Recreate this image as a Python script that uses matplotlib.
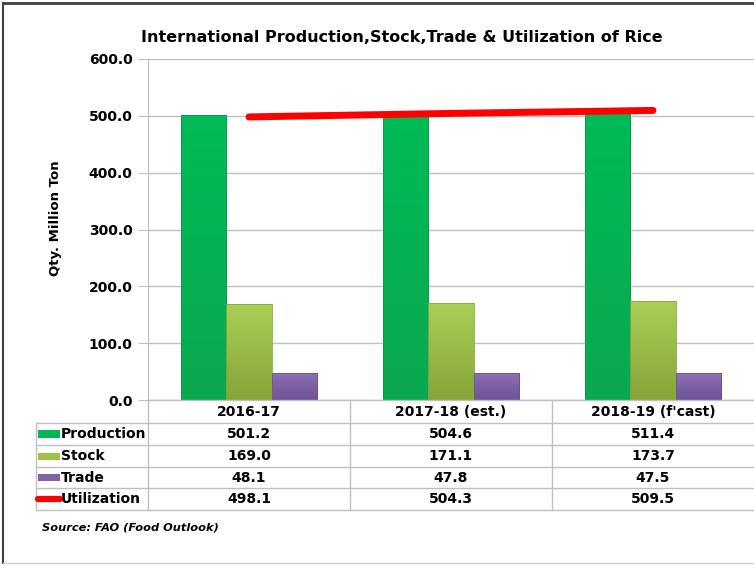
import matplotlib
matplotlib.use("Agg")
import matplotlib.pyplot as plt
import numpy as np
from matplotlib.patches import Rectangle
from matplotlib.lines import Line2D
from matplotlib.colors import LinearSegmentedColormap

categories = ["2016-17", "2017-18 (est.)", "2018-19 (f'cast)"]
production = [501.2, 504.6, 511.4]
stock = [169.0, 171.1, 173.7]
trade = [48.1, 47.8, 47.5]
utilization = [498.1, 504.3, 509.5]
series_names = ["Production", "Stock", "Trade", "Utilization"]
yticks = [0, 100, 200, 300, 400, 500, 600]

W, H = 754, 566
fig = plt.figure(figsize=(W / 100, H / 100), dpi=100)
plt.rcParams['font.family'] = ['DejaVu Sans']

def fx(px):
    return px / W

def fy(py):
    return 1 - py / H

ax_l, ax_r, ax_t, ax_b = 148, 754, 59, 400
ax = fig.add_axes([fx(ax_l), fy(ax_b), fx(ax_r) - fx(ax_l), fy(ax_t) - fy(ax_b)])

c_prod = "#00B552"
c_stock = "#9DC24A"
c_trade = "#8064A8"
c_util = "#FF0000"

grads = {
    "Production": ("#0BA850", "#00BB56"),
    "Stock": ("#86A43A", "#AACF55"),
    "Trade": ("#6E5396", "#8C70B8"),
}

x = np.arange(len(categories))
bw = 0.223
series_bars = [("Production", production, -bw, "#0A9A48"),
               ("Stock", stock, 0.0, "#86A83C"),
               ("Trade", trade, bw, "#6A5090")]
for name, vals, off, ec in series_bars:
    bars = ax.bar(x + off, vals, bw, color="none", edgecolor=ec, linewidth=0.6, zorder=4)
    cmap = LinearSegmentedColormap.from_list(name, list(grads[name]))
    for b in bars:
        x0, w, h = b.get_x(), b.get_width(), b.get_height()
        grad = np.linspace(0, 1, 64).reshape(-1, 1)
        im = ax.imshow(grad, extent=[x0, x0 + w, 0, h], origin="lower", aspect="auto",
                       cmap=cmap, zorder=3, interpolation="bilinear")
        im.set_clip_path(b)

ax.plot(x, utilization, color=c_util, linewidth=5, solid_capstyle="round", zorder=5)

ax.set_xlim(-0.5, len(categories) - 0.5)
ax.set_ylim(0, 600)
ax.set_yticks(yticks)
ax.set_yticklabels([f"{v:.1f}" for v in yticks], fontsize=10, fontweight="bold")
ax.set_xticks([])
ax.yaxis.grid(True, color="#BFBFBF", linewidth=1, zorder=0)
for s in ["top", "right", "bottom"]:
    ax.spines[s].set_visible(False)
ax.spines["left"].set_color("#BFBFBF")
ax.tick_params(axis="y", length=7, color="#BFBFBF", pad=4)

# y label
fig.text(fx(55), fy(218), "Qty. Million Ton", rotation=90, ha="center", va="center",
         fontsize=9.5, fontweight="bold")

# title
fig.text(fx(402), fy(37), "International Production,Stock,Trade & Utilization of Rice",
         ha="center", va="center", fontsize=11.5, fontweight="bold")

# table (data table under the chart)
grid_c = "#BFBFBF"
row_bounds = [400, 423, 445, 467, 488, 510]
col_bounds = [148, 350, 552, 754]
tbl_left = 36

def hline(y, x0, x1):
    fig.add_artist(Line2D([fx(x0), fx(x1)], [fy(y), fy(y)], color=grid_c, lw=1))

def vline(xp, y0, y1):
    fig.add_artist(Line2D([fx(xp), fx(xp)], [fy(y0), fy(y1)], color=grid_c, lw=1))

hline(row_bounds[0], col_bounds[0], col_bounds[-1])
for yb in row_bounds[1:]:
    hline(yb, tbl_left, col_bounds[-1])
for xc in col_bounds[:-1]:
    vline(xc, row_bounds[0], row_bounds[-1])
vline(tbl_left, row_bounds[1], row_bounds[-1])

for i, cat in enumerate(categories):
    cx = (col_bounds[i] + col_bounds[i + 1]) / 2
    fig.text(fx(cx), fy((row_bounds[0] + row_bounds[1]) / 2), cat, ha="center", va="center",
             fontsize=10, fontweight="bold")

values = [production, stock, trade, utilization]
colors = [c_prod, c_stock, c_trade, c_util]
for r, (name, vals, col) in enumerate(zip(series_names, values, colors)):
    y0, y1 = row_bounds[r + 1], row_bounds[r + 2]
    cy = (y0 + y1) / 2
    if name == "Utilization":
        fig.add_artist(Line2D([fx(38), fx(60)], [fy(cy), fy(cy)], color=col, lw=4.5,
                              solid_capstyle="round"))
    else:
        fig.add_artist(Rectangle((fx(38), fy(cy + 3.5)), fx(60) - fx(38), fy(cy - 3.5) - fy(cy + 3.5),
                                 facecolor=col, edgecolor="none", transform=fig.transFigure))
    fig.text(fx(61), fy(cy), name, ha="left", va="center", fontsize=10, fontweight="bold")
    for i, v in enumerate(vals):
        cx = (col_bounds[i] + col_bounds[i + 1]) / 2
        fig.text(fx(cx), fy(cy), f"{v:.1f}", ha="center", va="center", fontsize=10,
                 fontweight="bold")

fig.text(fx(42), fy(527), "Source: FAO (Food Outlook)", ha="left", va="center", fontsize=8.2,
         fontweight="bold", style="italic")

# outer border
fig.add_artist(Line2D([fx(3), fx(754)], [fy(3), fy(3)], color="#404040", lw=2))
fig.add_artist(Line2D([fx(3), fx(3)], [fy(3), fy(563)], color="#404040", lw=1.5))
fig.add_artist(Line2D([fx(3), fx(754)], [fy(563), fy(563)], color="#D0D0D0", lw=1))

fig.savefig("out.png", dpi=100)
